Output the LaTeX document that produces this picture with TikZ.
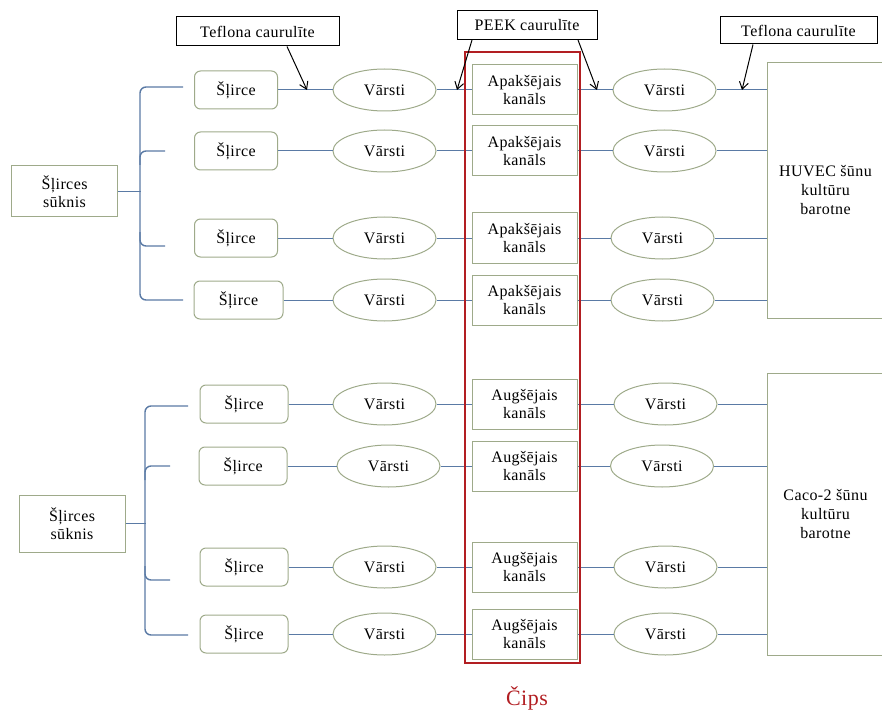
\documentclass[tikz,border=0pt]{standalone}
\usepackage{fontspec}
\setmainfont[LetterSpace=2.5]{Liberation Serif}
\usetikzlibrary{arrows.meta,shapes.geometric}
\definecolor{conn}{RGB}{90,122,165}
\definecolor{bord}{RGB}{158,170,138}
\definecolor{chipred}{RGB}{178,30,34}
\begin{document}
\begin{tikzpicture}[x=1pt,y=-1pt,
  every node/.style={font=\fontsize{16}{18.5}\selectfont, inner sep=0pt, align=center},
  lbl/.style={draw=black, line width=1pt, minimum width=#1, minimum height=29},
  syr/.style={draw=bord, line width=1pt, rounded corners=6pt, minimum height=38},
  valve/.style={draw=bord, line width=1pt, ellipse, minimum width=103, minimum height=42},
  chan/.style={draw=bord, line width=1pt, minimum width=105, minimum height=50},
  pump/.style={draw=bord, line width=1pt, minimum width=106},
  medium/.style={draw=bord, line width=1pt, minimum width=117, font=\fontsize{16}{19}\selectfont},
  pipe/.style={draw=conn, line width=1pt},
  brace/.style={draw=conn, line width=1.4pt, rounded corners=6pt},
  ptr/.style={draw=black, line width=1pt, -{Straight Barb[length=7pt,width=9pt]}}
]
\useasboundingbox (0,0) rectangle (882,711);

% labels
\node[lbl=163] (tef1) at (257.5,31.5) {Teflona caurulīte};
\node[lbl=140] (peek) at (527,25) {PEEK caurulīte};
\node[lbl=157, minimum height=27] (tef2) at (798.5,30.5) {Teflona caurulīte};

% media boxes
\node[medium, minimum height=255] (huvec) at (825.5,190.5) {HUVEC šūnu\\kultūru\\barotne};
\node[medium, minimum height=282] (caco) at (825.5,514) {Caco-2 šūnu\\kultūru\\barotne};

% pumps
\node[pump, minimum height=51] (sk1) at (64.5,191.5) {Šļirces\\sūknis};
\node[pump, minimum height=57] (sk2) at (72,523.5) {Šļirces\\sūknis};

% rows
\foreach \i/\y/\sx/\sw/\vx/\rvx/\kt/\med in {
  1/90/236/83/384.5/664.5/Apakšējais/huvec,
  2/151/236/83/384.5/664.5/Apakšējais/huvec,
  3/238/236/83/384.5/662.5/Apakšējais/huvec,
  4/300/238.5/89/384.5/662.5/Apakšējais/huvec,
  5/404/244/88/384.5/665.5/Augšējais/caco,
  6/466/243/88/388.5/662/Augšējais/caco,
  7/567/244/88/384.5/665.5/Augšējais/caco,
  8/634/244/88/384.5/665.5/Augšējais/caco}{
  \node[syr, minimum width=\sw] (s\i) at (\sx,\y) {Šļirce};
  \node[valve] (v\i) at (\vx,\y) {Vārsti};
  \node[chan] (k\i) at (524.5,\y) {\kt\\kanāls};
  \node[valve] (rv\i) at (\rvx,\y) {Vārsti};
  \draw[pipe] (s\i) -- (v\i) (v\i) -- (k\i) (k\i) -- (rv\i) (rv\i) -- (rv\i -| \med.west);
}

% braces top
\coordinate (bt1) at (183,87);
\coordinate (bt2) at (165,151);
\coordinate (bt3) at (165,246);
\coordinate (bt4) at (183,300);
\draw[brace] (bt1) -- (140,87) -- (140,300) -- (bt4);
\draw[brace] (bt2) -- (140,151) -- (140,165);
\draw[brace] (bt3) -- (140,246) -- (140,232);
\draw[brace] (sk1.east) -- +(23,0);

% braces bottom
\coordinate (bb1) at (188,406);
\coordinate (bb2) at (170,466);
\coordinate (bb3) at (170,580);
\coordinate (bb4) at (188,635);
\draw[brace] (bb1) -- (145,406) -- (145,635) -- (bb4);
\draw[brace] (bb2) -- (145,466) -- (145,480);
\draw[brace] (bb3) -- (145,580) -- (145,566);
\draw[brace] (sk2.east) -- +(20,0);

% chip
\node[draw=chipred, line width=2.8pt, minimum width=115, minimum height=611] (chip) at (522.5,357.5) {};
\node[text=chipred, font=\fontsize{22}{24}\selectfont] (cips) at (527,698) {Čips};

% pointer arrows
\coordinate (p1) at (307,90);
\coordinate (p2) at (457,90);
\coordinate (p3) at (597,90);
\coordinate (p4) at (742,90);
\draw[ptr] ([xshift=29.5pt]tef1.south) -- (p1);
\draw[ptr] ([xshift=-55pt]peek.south) -- (p2);
\draw[ptr] ([xshift=51pt]peek.south) -- (p3);
\draw[ptr] ([xshift=-45.5pt]tef2.south) -- (p4);
\end{tikzpicture}
\end{document}
